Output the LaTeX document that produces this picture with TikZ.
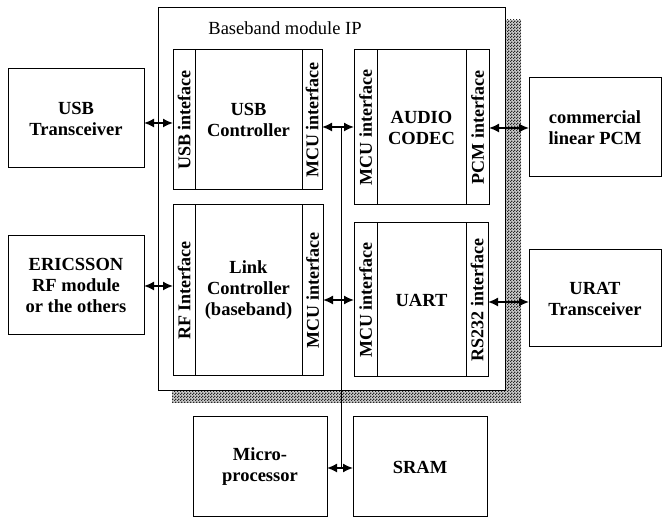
\documentclass[tikz,border=0pt]{standalone}
\usepackage{fontspec}
\setmainfont{Liberation Serif}
\usetikzlibrary{arrows.meta,patterns}
\pgfdeclarepatternformonly{densechecks}{\pgfqpoint{0pt}{0pt}}{\pgfqpoint{2.6pt}{2.6pt}}{\pgfqpoint{2.6pt}{2.6pt}}{%
  \pgfpathrectangle{\pgfqpoint{0pt}{0pt}}{\pgfqpoint{1.3pt}{1.3pt}}%
  \pgfpathrectangle{\pgfqpoint{1.3pt}{1.3pt}}{\pgfqpoint{1.3pt}{1.3pt}}%
  \pgfusepath{fill}}
\tikzset{
  blk/.style={draw, line width=1pt, fill=white, inner sep=0pt, outer sep=0pt, align=center,
    font=\fontsize{18.5}{21}\selectfont\bfseries},
  strip/.style={draw, line width=1pt, inner sep=0pt, outer sep=0pt,
    font=\fontsize{18}{20}\selectfont\bfseries},
  vlab/.style={rotate=90, inner sep=0pt, font=\fontsize{18}{20}\selectfont\bfseries},
  dbl/.style={line width=1.6pt, {Latex[length=10pt,width=9pt]}-{Latex[length=10pt,width=9pt]}},
  bus/.style={line width=1pt}
}
\newcommand{\boxat}[6]{% name, x1, y1, x2, y2, text
  \node[blk, minimum width={(#4-#2)*1pt}, minimum height={(#5-#3)*1pt}] (#1) at ({(#2+#4)/2},{(#3+#5)/2}) {#6};}
\newcommand{\stripat}[6]{% name, x1, y1, x2, y2, text
  \node[strip, minimum width={(#4-#2)*1pt}, minimum height={(#5-#3)*1pt}] (#1) at ({(#2+#4)/2},{(#3+#5)/2}) {};
  \node[vlab] at (#1.center) {#6};}
\begin{document}
\begin{tikzpicture}[x=1pt, y=-1pt]
\useasboundingbox (0,0) rectangle (662,518);
% shadow and outer module
\fill[black!20] (172,20) rectangle (521,403);
\fill[pattern=densechecks, pattern color=black!85] (172,20) rectangle (521,403);
\node[draw, line width=1pt, fill=white, minimum width=347pt, minimum height=383pt, inner sep=0pt, outer sep=0pt] (ip) at (331.5,199.5) {};
\node[font=\fontsize{18.5}{21}\selectfont, anchor=center] (iptitle) at (285,28) {Baseband module IP};
% USB controller block
\stripat{usbif}{173}{50}{195}{190}{USB inteface}
\boxat{usbc}{195}{50}{302}{190}{USB\\Controller}
\stripat{usbmcu}{302}{50}{322}{190}{MCU interface}
% Link controller block
\stripat{rfif}{173}{205}{195}{376}{RF Interface}
\boxat{link}{195}{205}{302}{376}{Link\\Controller\\(baseband)}
\stripat{linkmcu}{302}{205}{323}{376}{MCU interface}
% Audio codec block
\stripat{audmcu}{354}{50}{377}{205}{MCU interface}
\boxat{audio}{377}{50}{466}{205}{AUDIO\\CODEC}
\stripat{pcmif}{466}{50}{489}{205}{PCM interface}
% UART block
\stripat{uartmcu}{354}{223}{377}{377}{MCU interface}
\boxat{uart}{377}{223}{466}{377}{UART}
\stripat{rsif}{466}{223}{488}{377}{RS232 interface}
% external boxes
\boxat{usbt}{8}{69}{144}{168}{USB\\Transceiver}
\boxat{eric}{8}{236}{144}{335}{ERICSSON\\RF module\\or the others}
\boxat{pcm}{529}{78}{661}{177}{commercial\\linear PCM}
\boxat{urat}{529}{250}{661}{347}{URAT\\Transceiver}
\boxat{micro}{193}{417}{327}{517}{Micro-\\processor}
\boxat{sram}{353}{417}{487}{517}{SRAM}
% helper coordinates
\coordinate (bustop) at (341,127);
\coordinate (busbot) at (341,468);
% bus
\draw[bus] (bustop) -- (busbot);
% connectors
\draw[dbl] (usbt.east |- 0,123) -- (usbif.west |- 0,123);
\draw[dbl] (eric.east |- 0,286) -- (rfif.west |- 0,286);
\draw[dbl] (usbmcu.east |- bustop) -- (audmcu.west |- bustop);
\draw[dbl] (linkmcu.east |- 0,300) -- (uartmcu.west |- 0,300);
\draw[dbl] (pcmif.east |- 0,128) -- (pcm.west |- 0,128);
\draw[dbl] (rsif.east |- 0,302) -- (urat.west |- 0,302);
\draw[dbl] (micro.east |- busbot) -- (sram.west |- busbot);
\end{tikzpicture}
\end{document}
